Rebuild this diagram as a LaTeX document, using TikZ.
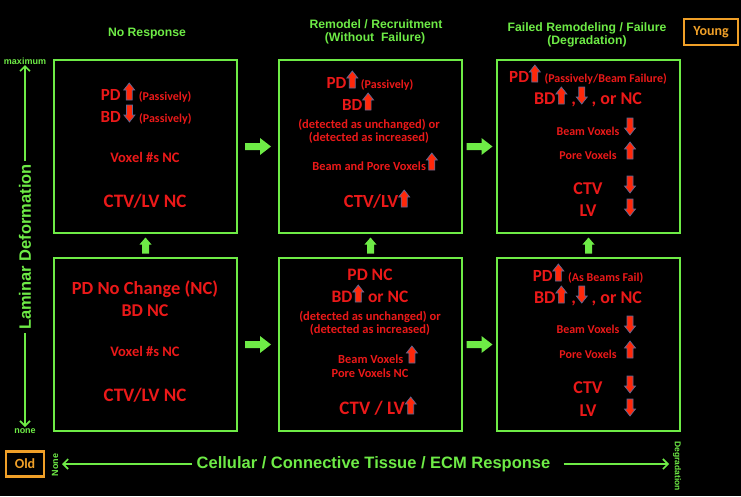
\documentclass[tikz,border=0pt]{standalone}
\usepackage{fontspec}
\setmainfont{Carlito}
\newfontfamily\arl{Liberation Sans}
\usetikzlibrary{arrows.meta,calc}
\definecolor{grn}{RGB}{110,235,70}
\definecolor{rtx}{RGB}{235,25,25}
\definecolor{rar}{RGB}{255,40,10}
\definecolor{rol}{RGB}{95,105,150}
\definecolor{org}{RGB}{240,160,40}
\newcommand\fsz[1]{\fontsize{#1}{#1}\selectfont}
\newcommand\ua{\tikz[baseline=0pt]\filldraw[fill=rar,draw=rol,line width=0.7pt] (-3pt,0pt) -- (3pt,0pt) -- (3pt,10pt) -- (5.5pt,10pt) -- (0pt,17pt) -- (-5.5pt,10pt) -- (-3pt,10pt) -- cycle;}
\newcommand\da{\tikz[baseline=0pt]\filldraw[fill=rar,draw=rol,line width=0.7pt] (-3pt,17pt) -- (3pt,17pt) -- (3pt,7pt) -- (5.5pt,7pt) -- (0pt,0pt) -- (-5.5pt,7pt) -- (-3pt,7pt) -- cycle;}
\tikzset{
  box/.style={draw=grn, line width=2.5pt, minimum width=183pt, minimum height=173pt, inner sep=0pt},
  rt/.style={text=rtx, font=\bfseries, anchor=base, inner sep=0pt},
  gt/.style={text=grn, font=\arl\bfseries\fsz{12.2}, anchor=base, inner sep=0pt},
  axl/.style={text=grn, font=\arl\bfseries\fsz{9}, inner sep=0pt},
  axis/.style={draw=grn, line width=1.6pt, -{Straight Barb[length=5pt,width=10pt]}},
  agebox/.style={draw=org, line width=2.2pt, text=org, font=\bfseries\fsz{14}, inner sep=0pt},
  hfat/.pic={\fill[grn] (-13,-3.5) -- (2,-3.5) -- (2,-8.5) -- (13,0) -- (2,8.5) -- (2,3.5) -- (-13,3.5) -- cycle;},
  vfat/.pic={\fill[grn] (-3.5,-8) -- (3.5,-8) -- (3.5,1) -- (6,1) -- (0,8) -- (-6,1) -- (-3.5,1) -- cycle;}
}
\begin{document}
\begin{tikzpicture}[x=1pt,y=1pt]
\fill[black] (0,0) rectangle (741,-496);
\useasboundingbox (0,0) rectangle (741,-496);

% boxes
\node[box] (b1) at (145.5,-146.5) {};
\node[box] (b2) at (370.5,-146.5) {};
\node[box] (b3) at (588.5,-146.5) {};
\node[box] (b4) at (145.5,-344.5) {};
\node[box] (b5) at (370.5,-344.5) {};
\node[box] (b6) at (588.5,-344.5) {};

% fat arrows
\pic at ($(b1.east)!0.5!(b2.west)$) {hfat};
\pic at ($(b2.east)!0.5!(b3.west)$) {hfat};
\pic at ($(b4.east)!0.5!(b5.west)$) {hfat};
\pic at ($(b5.east)!0.5!(b6.west)$) {hfat};
\pic at ($(b4.north)!0.5!(b1.south)$) {vfat};
\pic at ($(b5.north)!0.5!(b2.south)$) {vfat};
\pic at ($(b6.north)!0.5!(b3.south)$) {vfat};

% headings
\node[gt] (h1) at (147,-36) {No Response};
\node[gt] (h2a) at (376,-28) {Remodel / Recruitment};
\node[gt] (h2b) at (375,-41) {(Without~ Failure)};
\node[gt] (h3a) at (587,-31) {Failed Remodeling / Failure};
\node[gt] (h3b) at (587,-44) {(Degradation)};
\node[agebox, minimum width=54pt, minimum height=26pt] (young) at (711,-32) {Young};
\node[agebox, minimum width=38pt, minimum height=25pt] (old) at (25,-464) {Old};

% box 1
\node[rt] (t1a) at (146,-100) {\fsz{17}PD\,\ua\ \fsz{12}(Passively)};
\node[rt] (t1b) at (146,-122) {\fsz{17}BD\,\da\ \fsz{12}(Passively)};
\node[rt] (t1c) at (145,-162) {\fsz{14.5}Voxel \#s NC};
\node[rt] (t1d) at (145,-207) {\fsz{19}CTV/LV NC};

% box 4
\node[rt] (t4a) at (145,-294) {\fsz{18.5}PD No Change (NC)};
\node[rt] (t4b) at (145,-316) {\fsz{18}BD NC};
\node[rt] (t4c) at (145,-356) {\fsz{14.5}Voxel \#s NC};
\node[rt] (t4d) at (145,-401) {\fsz{19}CTV/LV NC};

% box 2
\node[rt] (t2a) at (370,-88) {\fsz{17}PD\ua\,\fsz{12}(Passively)};
\node[rt] (t2b) at (358,-110) {\fsz{17}BD\ua};
\node[rt] (t2c) at (369,-128) {\fsz{12.5}(detected as unchanged) or};
\node[rt] (t2d) at (369,-141) {\fsz{12.5}(detected as increased)};
\node[rt] (t2e) at (375,-170) {\fsz{12.4}Beam and Pore Voxels\ua};
\node[rt] (t2f) at (377,-207) {\fsz{18.5}CTV/LV\ua};

% box 5
\node[rt] (t5a) at (370,-280) {\fsz{17.5}PD NC};
\node[rt] (t5b) at (370,-302) {\fsz{17.5}BD\ua\ or NC};
\node[rt] (t5c) at (370,-320) {\fsz{12.5}(detected as unchanged) or};
\node[rt] (t5d) at (370,-333) {\fsz{12.5}(detected as increased)};
\node[rt] (t5e) at (378,-363) {\fsz{12.4}Beam Voxels \ua};
\node[rt] (t5f) at (370,-377) {\fsz{12.4}Pore Voxels NC};
\node[rt] (t5g) at (378,-414) {\fsz{19}CTV / LV\ua};

% box 3
\node[rt] (t3a) at (588,-82) {\fsz{17}PD\ua\ \fsz{12}(Passively/Beam Failure)};
\node[rt] (t3b) at (588,-104) {\fsz{18}BD\ua\ ,\da\ , or NC};
\node[rt] (t3c) at (588,-135) {\fsz{12}Beam Voxels};
\node[rt] (a3c) at (630,-135) {\da};
\node[rt] (t3d) at (588,-159) {\fsz{12}Pore Voxels};
\node[rt] (a3d) at (630,-159) {\ua};
\node[rt] (t3e) at (588,-194) {\fsz{18}CTV};
\node[rt] (a3e) at (630,-193) {\da};
\node[rt] (t3f) at (588,-216) {\fsz{18}LV};
\node[rt] (a3f) at (630,-216) {\da};

% box 6
\node[rt] (t6a) at (588,-281) {\fsz{17}PD\ua\ \fsz{12}(As Beams Fail)};
\node[rt] (t6b) at (588,-303) {\fsz{18}BD\ua\ ,\da\ , or NC};
\node[rt] (t6c) at (588,-333) {\fsz{12}Beam Voxels};
\node[rt] (a6c) at (630,-333) {\da};
\node[rt] (t6d) at (588,-358) {\fsz{12}Pore Voxels};
\node[rt] (a6d) at (630,-358) {\ua};
\node[rt] (t6e) at (588,-393) {\fsz{18}CTV};
\node[rt] (a6e) at (630,-393) {\da};
\node[rt] (t6f) at (588,-416) {\fsz{18}LV};
\node[rt] (a6f) at (630,-416) {\da};

% vertical axis
\node[axl] (max) at (25,-61) {maximum};
\node[axl] (none) at (25,-431) {none};
\node[text=grn, font=\arl\bfseries\fsz{16.5}, rotate=90, inner xsep=3pt, inner ysep=0pt] (lam) at (25,-247) {Laminar Deformation};
\coordinate (ytop) at (25,-65);
\coordinate (ybot) at (25,-427);
\draw[axis] (lam.east) -- (ytop);
\draw[axis] (lam.west) -- (ybot);

% horizontal axis
\node[text=grn, font=\arl\bfseries\fsz{16.5}, inner xsep=4pt, inner ysep=0pt] (cell) at (373.5,-464) {Cellular / Connective Tissue / ECM Response};
\node[axl, rotate=90] (nonex) at (55,-465) {None};
\node[axl, font=\arl\bfseries\fsz{8.5}, rotate=-90] (degr) at (677,-466) {Degradation};
\coordinate (xl) at (62,-464);
\coordinate (xr) at (669,-464);
\draw[axis] (cell.west) -- (xl);
\draw[axis] ([xshift=9pt]cell.east) -- (xr);
\end{tikzpicture}
\end{document}
